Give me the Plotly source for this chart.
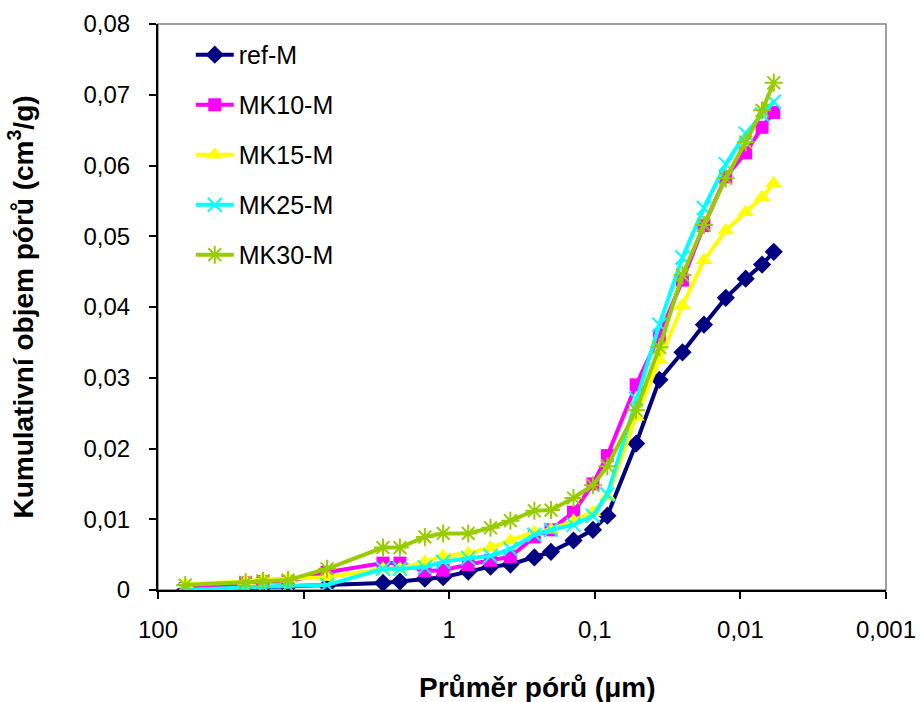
import plotly.graph_objects as go

# Pore diameter (µm) for each intrusion step
diameter_um = [65, 25, 19, 12.8, 6.9, 2.85, 2.18, 1.47, 1.10, 0.74, 0.52, 0.38, 0.26,
               0.20, 0.14, 0.103, 0.082, 0.052, 0.036, 0.025, 0.0178, 0.0126, 0.0092,
               0.0071, 0.0059]

# Cumulative pore volume (cm3/g)
ref_M = [0.0000, 0.0003, 0.0004, 0.0005, 0.0006, 0.0010, 0.0012, 0.0016, 0.0018,
         0.0026, 0.0033, 0.0036, 0.0046, 0.0054, 0.0070, 0.0085, 0.0105, 0.0207,
         0.0297, 0.0336, 0.0375, 0.0413, 0.0440, 0.0460, 0.0478]
MK10_M = [0.0002, 0.0010, 0.0012, 0.0012, 0.0025, 0.0038, 0.0038, 0.0027, 0.0028,
          0.0036, 0.0042, 0.0047, 0.0075, 0.0085, 0.0110, 0.0150, 0.0190, 0.0290,
          0.0360, 0.0438, 0.0515, 0.0584, 0.0618, 0.0654, 0.0675]
MK15_M = [0.0008, 0.0012, 0.0015, 0.0016, 0.0018, 0.0030, 0.0030, 0.0040, 0.0048,
          0.0052, 0.0060, 0.0070, 0.0082, 0.0085, 0.0098, 0.0110, 0.0132, 0.0245,
          0.0325, 0.0402, 0.0466, 0.0508, 0.0534, 0.0555, 0.0575]
MK25_M = [0.0000, 0.0004, 0.0005, 0.0006, 0.0007, 0.0030, 0.0030, 0.0032, 0.0040,
          0.0045, 0.0048, 0.0058, 0.0078, 0.0085, 0.0092, 0.0105, 0.0135, 0.0270,
          0.0375, 0.0470, 0.0540, 0.0602, 0.0645, 0.0672, 0.0690]
MK30_M = [0.0007, 0.0011, 0.0013, 0.0014, 0.0030, 0.0060, 0.0060, 0.0075, 0.0080,
          0.0080, 0.0088, 0.0098, 0.0112, 0.0113, 0.0130, 0.0148, 0.0175, 0.0254,
          0.0343, 0.0445, 0.0516, 0.0582, 0.0633, 0.0678, 0.0717]

series_names = ["ref-M", "MK10-M", "MK15-M", "MK25-M", "MK30-M"]
series_values = [ref_M, MK10_M, MK15_M, MK25_M, MK30_M]

x_tick_vals = [100, 10, 1, 0.1, 0.01, 0.001]
x_tick_text = ["100", "10", "1", "0,1", "0,01", "0,001"]

styles = [
    dict(color="#000080", symbol="diamond", size=14, mline=0),
    dict(color="#FF00FF", symbol="square", size=13, mline=0),
    dict(color="#FFFF00", symbol="triangle-up", size=15, mline=0),
    dict(color="#00FFFF", symbol="x-thin-open", size=14, mline=2),
    dict(color="#99CC00", symbol="asterisk-open", size=15, mline=2),
]

FONT = "Liberation Sans, Arial, sans-serif"

fig = go.Figure()
for i, (name, vals, st) in enumerate(zip(series_names, series_values, styles)):
    fig.add_trace(go.Scatter(
        x=diameter_um, y=vals, name=name, mode="lines+markers",
        legendgroup=f"g{i}",
        line=dict(color=st["color"], width=4),
        marker=dict(symbol=st["symbol"], size=st["size"], color=st["color"],
                    line=dict(color=st["color"], width=st["mline"])),
    ))

# plot-area frame
fig.add_shape(type="rect", xref="paper", yref="paper", x0=0, y0=0, x1=1, y1=1,
              line=dict(color="#808080", width=1.5), layer="below")

# x-axis title
fig.add_annotation(text="<b>Průměr pórů (μm)</b>", xref="paper", yref="paper",
                   x=0.52, y=-0.173, xanchor="center", yanchor="middle",
                   showarrow=False, font=dict(size=28, family=FONT, color="black"))

fig.update_layout(
    width=924, height=702,
    margin=dict(l=158, r=38, t=24, b=112),
    paper_bgcolor="white", plot_bgcolor="white",
    separators=", ",
    font=dict(family=FONT, size=24, color="black"),
    showlegend=True,
    legend=dict(x=0.045, y=0.986, xanchor="left", yanchor="top",
                bgcolor="rgba(0,0,0,0)", tracegroupgap=14.5, itemwidth=38,
                font=dict(size=25, family=FONT)),
    xaxis=dict(
        type="log", range=[2, -3], autorange=False, automargin=False,
        tickvals=x_tick_vals, ticktext=x_tick_text,
        ticks="outside", ticklen=7, tickcolor="black", tickwidth=1.5,
        showline=True, linecolor="black", linewidth=2,
        showgrid=False, zeroline=False,
        ticklabelstandoff=10,
        tickfont=dict(size=24, family=FONT),
    ),
    yaxis=dict(
        range=[0, 0.08], dtick=0.01, tick0=0, automargin=False,
        ticks="outside", ticklen=7, tickcolor="black", tickwidth=1.5,
        showline=True, linecolor="black", linewidth=2,
        showgrid=False, zeroline=False,
        ticklabelstandoff=14,
        tickfont=dict(size=24, family=FONT),
        title=dict(text="<b>Kumulativní objem pórů (cm<sup>3</sup>/g)</b>", standoff=42,
                   font=dict(size=28, family=FONT)),
    ),
)

fig.write_html("out.html")
